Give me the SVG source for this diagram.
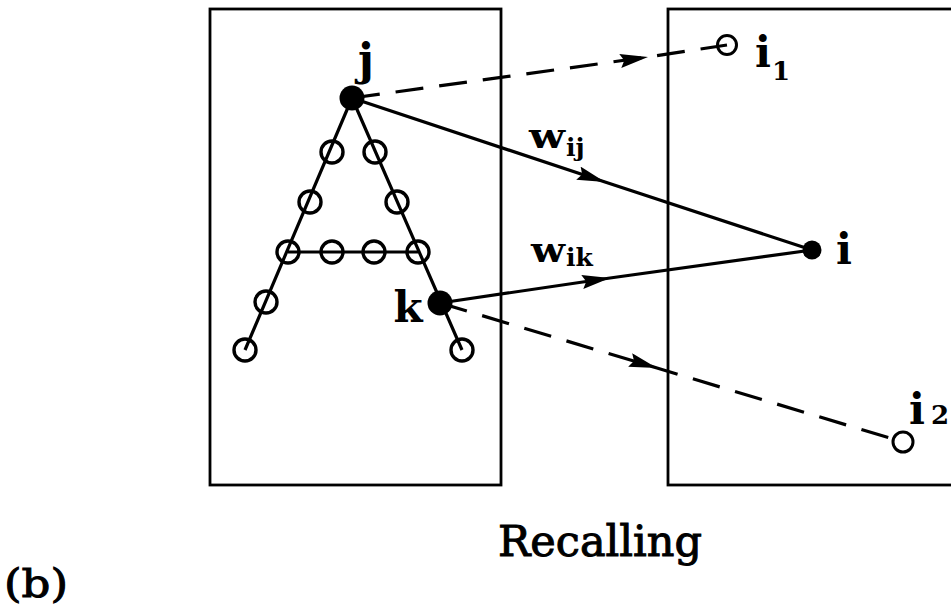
<svg xmlns="http://www.w3.org/2000/svg" width="951" height="611" viewBox="0 0 951 611">
<style>
.box{fill:none;stroke:#000;stroke-width:2.8}
.leg{fill:none;stroke:#000;stroke-width:3.2}
.open{fill:none;stroke:#000;stroke-width:3.4}
.opsm{fill:none;stroke:#000;stroke-width:3}
.full{fill:#000;stroke:none}
.conn{fill:none;stroke:#000;stroke-width:3.2;marker-mid:url(#ah)}
.dash{stroke-dasharray:28 16}
.lbl{font-family:"DejaVu Serif","Liberation Serif",serif;font-weight:bold;fill:#000}
.cap{font-family:"DejaVu Serif","Liberation Serif",serif;font-weight:normal;fill:#000;stroke:#000;stroke-width:1}
</style>
<defs>
<marker id="ah" viewBox="0 0 28 14" refX="28" refY="7" markerWidth="28" markerHeight="14" markerUnits="userSpaceOnUse" orient="auto">
<path d="M0,0 L28,7 L0,14 L4,7 Z" fill="#000" stroke="none"/>
</marker>
</defs>
<rect width="951" height="611" fill="#fff"/>
<g id="input-layer"><rect class="box" x="210" y="9" width="291" height="476"/></g>
<g id="output-layer"><rect class="box" x="668" y="9" width="300" height="476"/></g>
<g id="pattern-A">
<path class="leg" d="M352,98 L245,350 M352,98 L462,350 M288,252 L418,252"/>
<circle class="open" cx="332" cy="152" r="11"/>
<circle class="open" cx="375" cy="152" r="11"/>
<circle class="open" cx="310" cy="202" r="11"/>
<circle class="open" cx="397" cy="202" r="11"/>
<circle class="open" cx="288" cy="252" r="11"/>
<circle class="open" cx="332" cy="252" r="11"/>
<circle class="open" cx="374" cy="252" r="11"/>
<circle class="open" cx="418" cy="252" r="11"/>
<circle class="open" cx="266" cy="302" r="11"/>
<circle class="open" cx="245" cy="350" r="11"/>
<circle class="open" cx="462" cy="350" r="11"/>
</g>
<g id="connectors">
<path class="conn dash" d="M352,98 L648,57 L727,45"/>
<path class="conn" d="M352,98 L605,182 L812,250"/>
<path class="conn" d="M440,303 L610,278 L812,250"/>
<path class="conn dash" d="M440,303 L657,368 L903,442"/>
</g>
<g id="node-j"><circle class="full" cx="352" cy="98" r="12.5"/><text class="lbl" x="366" y="75" font-size="44" text-anchor="middle">j</text></g>
<g id="node-k"><circle class="full" cx="440" cy="303" r="12.5"/><text class="lbl" x="408" y="322" font-size="42" text-anchor="middle">k</text></g>
<g id="node-i"><circle class="full" cx="812" cy="250" r="9.5"/><text class="lbl" x="844" y="264" font-size="42" text-anchor="middle">i</text></g>
<g id="node-i1"><circle class="opsm" cx="727" cy="45" r="9.5"/><text class="lbl" x="755" y="67" font-size="42">i</text><text class="lbl" x="772" y="80" font-size="26">1</text></g>
<g id="node-i2"><circle class="opsm" cx="903" cy="442" r="10"/><text class="lbl" x="909" y="424" font-size="42">i</text><text class="lbl" x="931" y="424" font-size="26">2</text></g>
<g id="label-wij"><text class="lbl" x="529" y="148" font-size="36" textLength="36" lengthAdjust="spacingAndGlyphs">w</text><text class="lbl" x="566" y="156" font-size="25">ij</text></g>
<g id="label-wik"><text class="lbl" x="531" y="262" font-size="36" textLength="34" lengthAdjust="spacingAndGlyphs">w</text><text class="lbl" x="566" y="266" font-size="25">ik</text></g>
<text class="cap" x="498" y="556" font-size="42" textLength="204" lengthAdjust="spacingAndGlyphs">Recalling</text>
<text class="cap" x="4" y="597" font-size="40" textLength="64" lengthAdjust="spacingAndGlyphs">(b)</text>
</svg>
